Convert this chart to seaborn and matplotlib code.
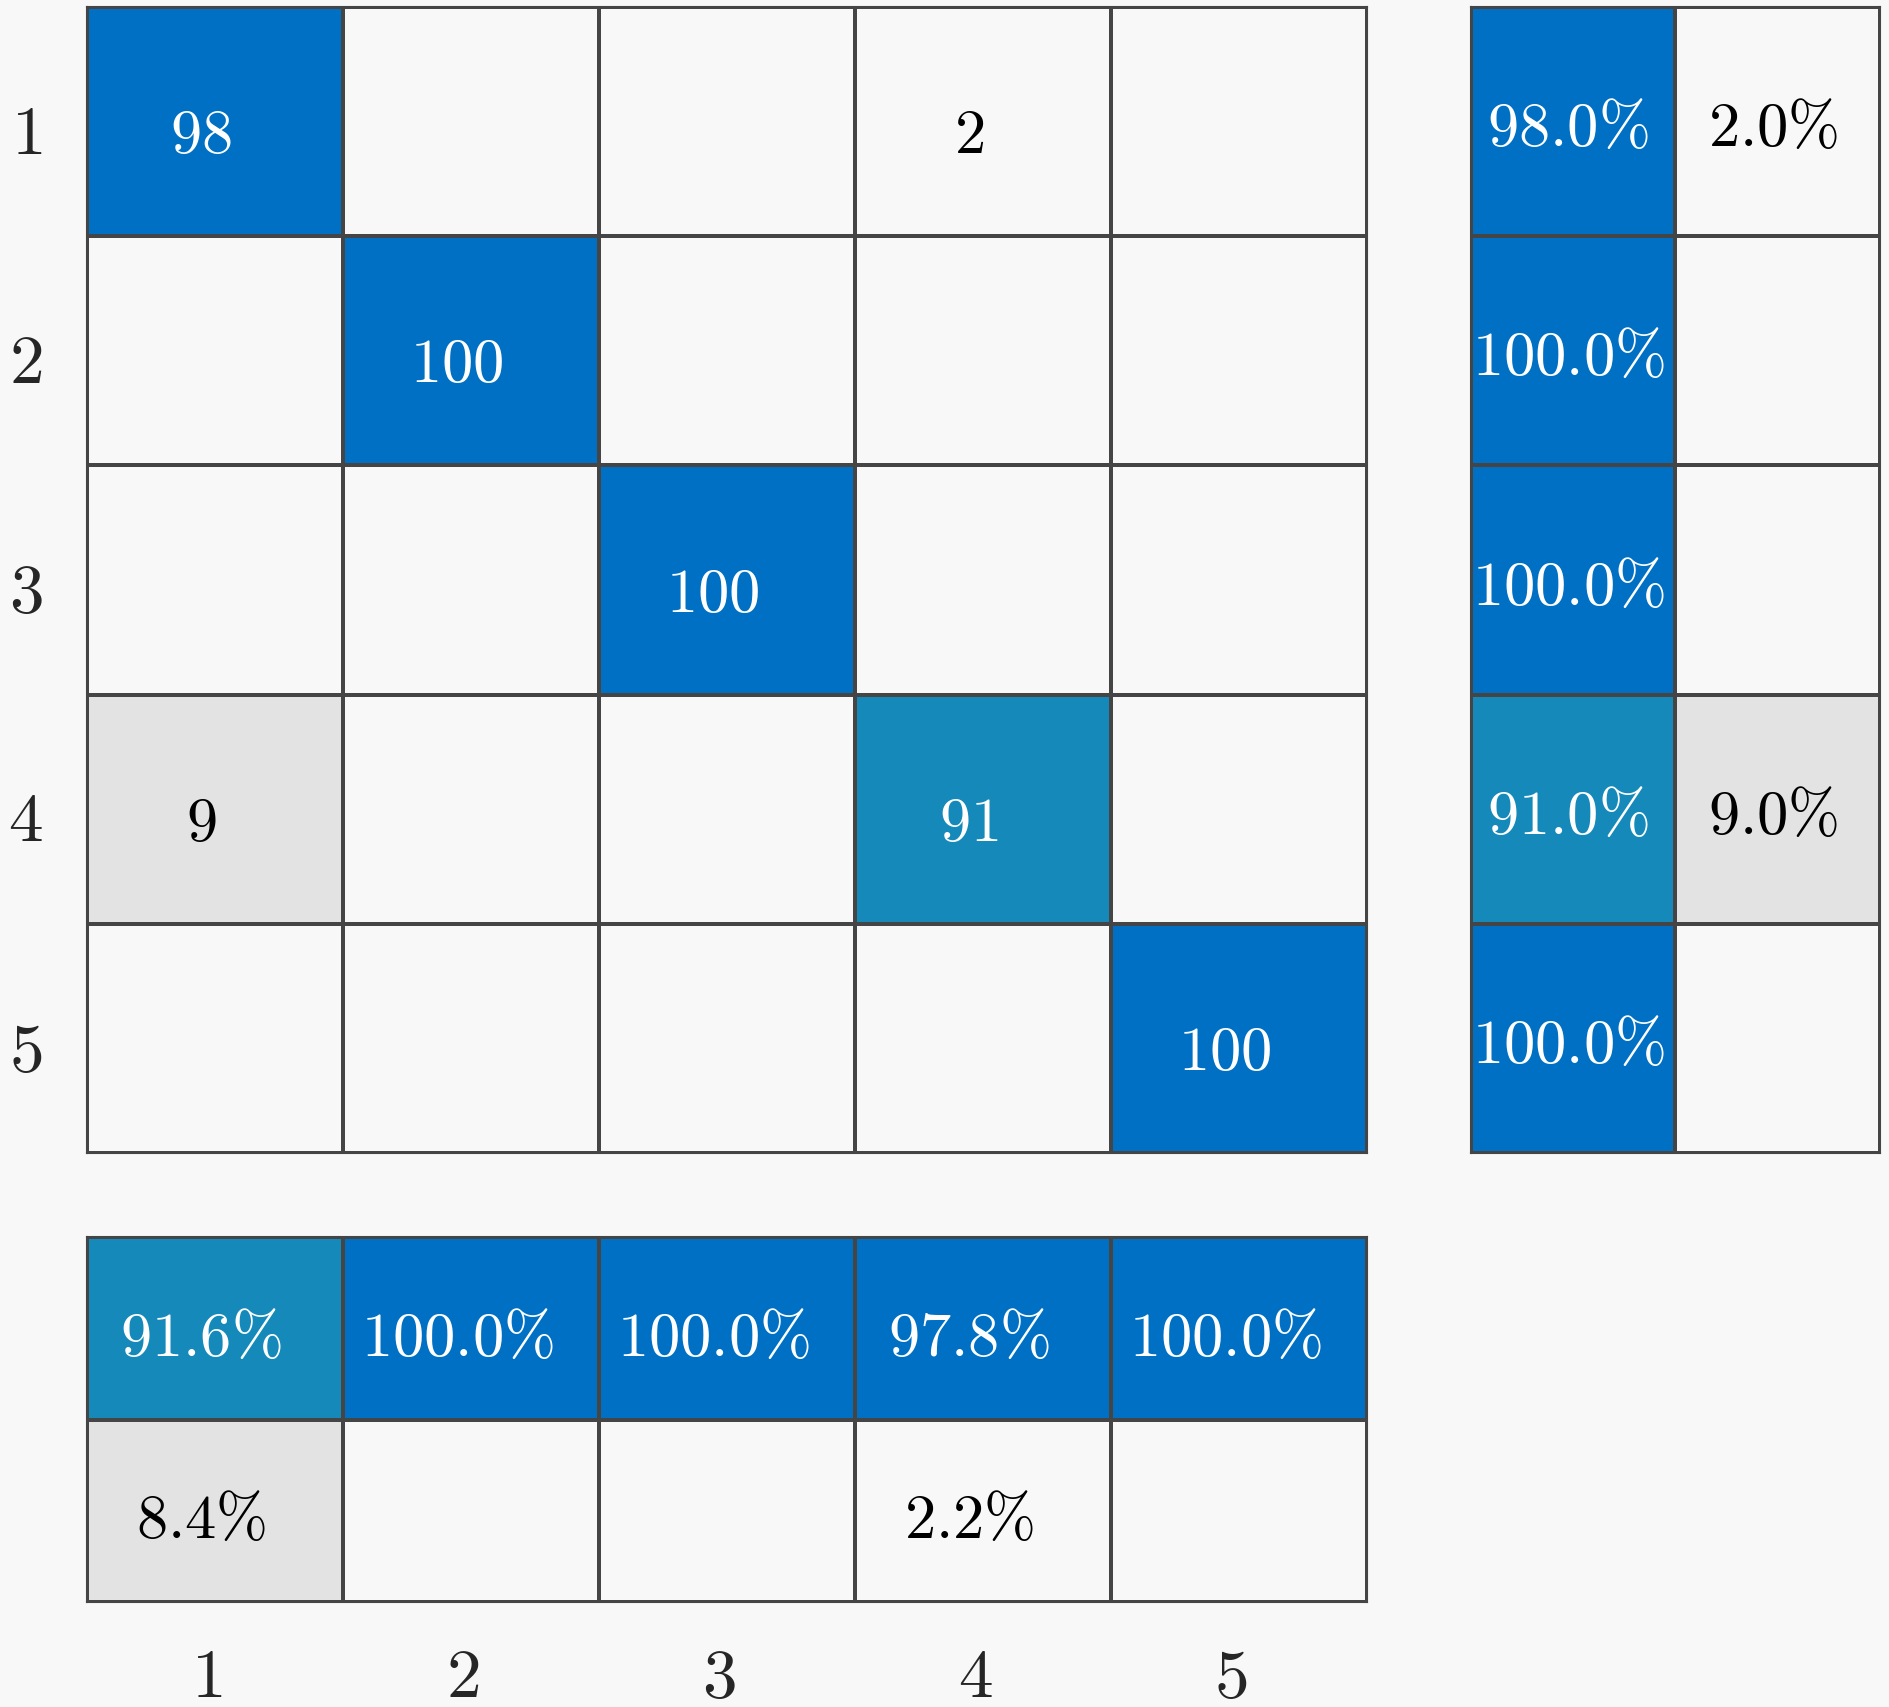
import numpy as np
import seaborn as sns
import matplotlib.pyplot as plt
from matplotlib.colors import LinearSegmentedColormap, ListedColormap
from matplotlib.transforms import ScaledTranslation

classes = ['1', '2', '3', '4', '5']

# confusion matrix counts (rows = true class, cols = predicted class)
cm = np.array([
    [98, 0, 0, 2, 0],
    [0, 100, 0, 0, 0],
    [0, 0, 100, 0, 0],
    [9, 0, 0, 91, 0],
    [0, 0, 0, 0, 100],
])

# row summary (right panel): correct / incorrect percent per true class
row_correct = [98.0, 100.0, 100.0, 91.0, 100.0]
row_wrong = [2.0, 0.0, 0.0, 9.0, 0.0]

# column summary (bottom panel): correct / incorrect percent per predicted class
col_correct = [91.6, 100.0, 100.0, 97.8, 100.0]
col_wrong = [8.4, 0.0, 0.0, 2.2, 0.0]

sns.set_style('white')
plt.rcParams['mathtext.fontset'] = 'cm'
plt.rcParams['font.family'] = ['DejaVu Serif']

bg = '#F8F8F8'
edge = '#454545'
good_cmap = LinearSegmentedColormap.from_list('good', ['#1589B9', '#0070C4'])
bad_cmap = LinearSegmentedColormap.from_list('bad', [bg, '#E3E3E3'])
bg_cmap = ListedColormap([bg])
fs = 45
DPI = 100


def shift(texts, dx, dy):
    # move texts by dx, dy pixels (dy positive = down)
    for t in texts:
        t.set_transform(t.get_transform() +
                        ScaledTranslation(dx / DPI, -dy / DPI, fig.dpi_scale_trans))


def draw_panel(ax, good, bad, good_lbl, bad_lbl, dx, dy):
    # background grid of empty cells
    sns.heatmap(np.zeros(good.shape), ax=ax, cmap=bg_cmap, cbar=False,
                linewidths=1.5, linecolor=edge)
    sns.heatmap(good, mask=~(good > 0), ax=ax, cmap=good_cmap, vmin=91.6, vmax=97.8,
                cbar=False, annot=good_lbl, fmt='', linewidths=1.5, linecolor=edge,
                annot_kws={'fontsize': fs, 'color': 'white'})
    sns.heatmap(bad, mask=~(bad > 0), ax=ax, cmap=bad_cmap, vmin=2.2, vmax=8.4,
                cbar=False, annot=bad_lbl, fmt='', linewidths=1.5, linecolor=edge,
                annot_kws={'fontsize': fs, 'color': 'black'})
    shift(ax.texts, dx, dy)
    for s in ax.spines.values():
        s.set_visible(True)
        s.set_color(edge)
        s.set_linewidth(1.5)
    ax.set_xticks([])
    ax.set_yticks([])


def pct(v):
    return r'$%.1f\%%$' % v


fig = plt.figure(figsize=(18.9, 17.08), dpi=DPI, facecolor=bg)

# main confusion matrix
ax_main = fig.add_axes([87 / 1890, 1 - 1154 / 1708, 1280 / 1890, 1146 / 1708])
diag = np.where(np.eye(5, dtype=bool), cm, 0).astype(float)
off = np.where(np.eye(5, dtype=bool), 0, cm).astype(float)
diag_lbl = np.array([['$%d$' % v if v else '' for v in r] for r in diag.astype(int)])
off_lbl = np.array([['$%d$' % v if v else '' for v in r] for r in off.astype(int)])
draw_panel(ax_main, diag, off, diag_lbl, off_lbl, -14, 13)
ax_main.set_yticks(np.arange(5) + 0.5)
ax_main.set_yticklabels(['$%s$' % c for c in classes], rotation=0, fontsize=50)
ax_main.tick_params(axis='y', length=0, pad=32)
shift(ax_main.get_yticklabels(), 0, 12)

# row summary
ax_row = fig.add_axes([1471 / 1890, 1 - 1154 / 1708, 409 / 1890, 1146 / 1708])
rg = np.array([[v, 0] for v in row_correct])
rb = np.array([[0, v] for v in row_wrong])
rg_lbl = np.array([[pct(v), ''] for v in row_correct])
rb_lbl = np.array([['', pct(v) if v else ''] for v in row_wrong])
draw_panel(ax_row, rg, rb, rg_lbl, rb_lbl, -5, 6)

# column summary
ax_col = fig.add_axes([87 / 1890, 1 - 1603 / 1708, 1280 / 1890, 365 / 1708])
cg = np.array([col_correct, [0] * 5])
cb = np.array([[0] * 5, col_wrong])
cg_lbl = np.array([[pct(v) for v in col_correct], [''] * 5])
cb_lbl = np.array([[''] * 5, [pct(v) if v else '' for v in col_wrong]])
draw_panel(ax_col, cg, cb, cg_lbl, cb_lbl, -14, 9)
ax_col.set_xticks(np.arange(5) + 0.5)
ax_col.set_xticklabels(['$%s$' % c for c in classes], fontsize=50)
ax_col.tick_params(axis='x', length=0, pad=30)
shift(ax_col.get_xticklabels(), -8, 0)

fig.savefig('out.png', dpi=DPI, facecolor=bg)
